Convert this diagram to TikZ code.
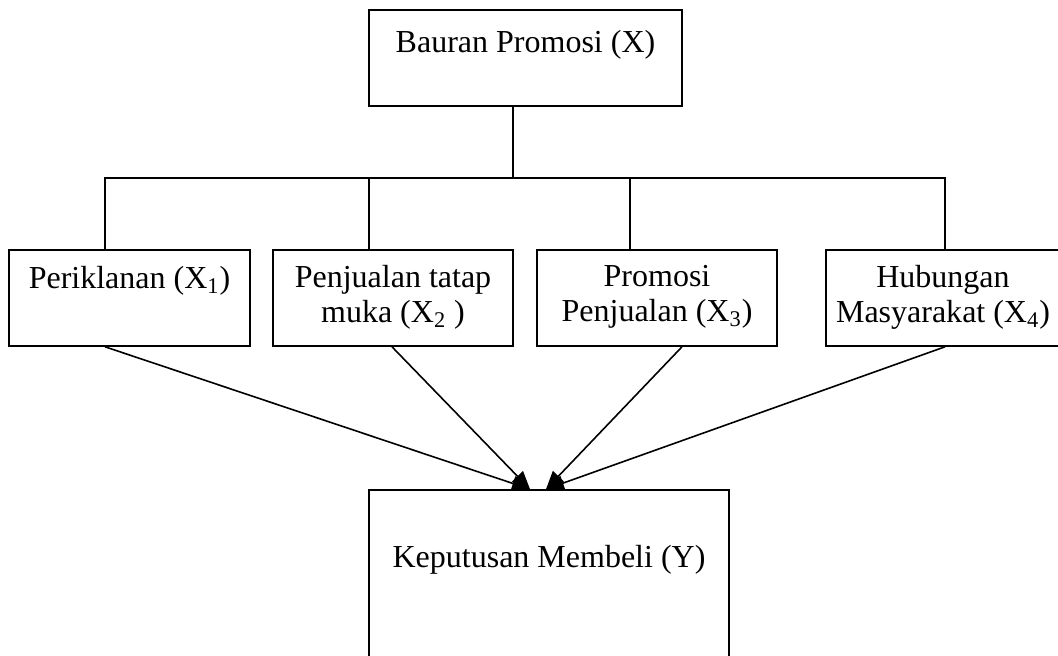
\documentclass[tikz,border=0pt]{standalone}
\usepackage{fontspec}
\setmainfont{Liberation Serif}
\usepackage{tikz}
\usetikzlibrary{arrows.meta,positioning}
\tikzset{
  basic/.style   = {draw, line width=0.8pt, rectangle, inner sep=0pt},
  root/.style    = {basic, minimum width=156.5pt, minimum height=48pt},
  factor/.style  = {basic, minimum height=48pt},
  result/.style  = {basic, minimum width=180pt, minimum height=86pt},
  caption/.style = {inner sep=0pt, align=center, font=\fontsize{16}{17.5}\selectfont}
}

\begin{document}
\begin{tikzpicture}[x=0.5pt, y=-0.5pt, line width=0.8pt,
  >={Triangle[length=9pt,width=7.5pt]}]
\useasboundingbox (0,0) rectangle (1058,656);

% boxes
\node[root] (bp) at (525.5,58) {};
\node[factor, minimum width=120.5pt] (x1) at (129.5,298) {};
\node[factor, minimum width=120pt] (x2) at (393,298) {};
\node[factor, minimum width=120pt] (x3) at (657,298) {};
\node[factor, minimum width=117pt] (x4) at (943,298) {};
\node[result] (kp) at (549,576) {};

% texts, hanging from the top of each box
\node[caption, below=10pt of bp.north] (bpt) {Bauran Promosi (X)};
\node[caption, below=8pt of x1.north] (x1t) {Periklanan (X\textsubscript{1})};
\node[caption, below=7.5pt of x2.north] (x2t) {Penjualan tatap\\muka (X\textsubscript{2} )};
\node[caption, below=7.5pt of x3.north] (x3t) {Promosi\\Penjualan (X\textsubscript{3})};
\node[caption, below=7.5pt of x4.north] (x4t) {Hubungan\\Masyarakat (X\textsubscript{4})};
\node[caption, below=27.5pt of kp.north] (kpt) {Keputusan Membeli (Y)};

% tree lines
\coordinate (hub) at (513,178);
\coordinate (hubl) at (105,178);
\coordinate (hubr) at (945,178);
\draw (bp.south -| hub) -- (hub);
\draw (x1.north -| hubl) -- (hubl) -- (hubr) -- (x4.north -| hubr);
\draw (369,178) -- (x2.north -| 369,178);
\draw (630,178) -- (x3.north -| 630,178);

% arrows to Y
\foreach \i/\s/\e in {1/105/530,2/392/530,3/682/546,4/945/546}
  \draw[->] (x\i.south -| \s,0) -- (kp.north -| \e,0);
\end{tikzpicture}
\end{document}
